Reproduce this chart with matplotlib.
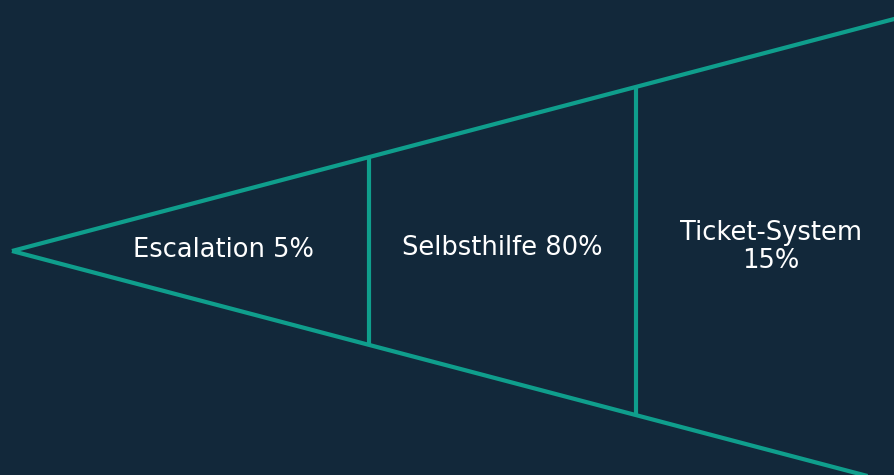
import matplotlib.pyplot as plt

# funnel stages (left = narrowest)
stages = ["Escalation", "Selbsthilfe", "Ticket-System"]
shares = [5, 80, 15]
label_breaks = [False, False, True]   # put the percentage on its own line

BG = '#12283a'
TEAL = '#0f9e8c'

# funnel geometry in pixel-like units (canvas 895 x 475)
apex_x, apex_y = 12, 251
spread = 0.263          # half opening per unit of x
dividers = [369, 636]   # stage boundaries
right_x = 895
label_x = [223, 502, 771]
label_y = [250, 248, 247]

fig = plt.figure(figsize=(8.95, 4.75), dpi=100)
fig.patch.set_facecolor(BG)
ax = fig.add_axes([0, 0, 1, 1])
ax.set_facecolor(BG)
ax.set_xlim(0, 895)
ax.set_ylim(475, 0)
ax.set_axis_off()

def edge(x, sign):
    return apex_y + sign * spread * (x - apex_x)

lw = 3.0
ax.plot([apex_x, right_x], [apex_y, edge(right_x, -1)], color=TEAL, lw=lw,
        solid_capstyle='butt', solid_joinstyle='miter')
ax.plot([apex_x, right_x], [apex_y, edge(right_x, 1)], color=TEAL, lw=lw,
        solid_capstyle='butt', solid_joinstyle='miter')
for dx in dividers:
    ax.plot([dx, dx], [edge(dx, -1), edge(dx, 1)], color=TEAL, lw=lw,
            solid_capstyle='butt')

for name, pct, brk, lx, ly in zip(stages, shares, label_breaks, label_x, label_y):
    sep = "\n" if brk else " "
    ax.text(lx, ly, f"{name}{sep}{pct}%", color='white', fontsize=18.5,
            family=['DejaVu Sans'], ha='center', va='center', linespacing=1.12)

fig.savefig('out.png', dpi=100, facecolor=BG)
